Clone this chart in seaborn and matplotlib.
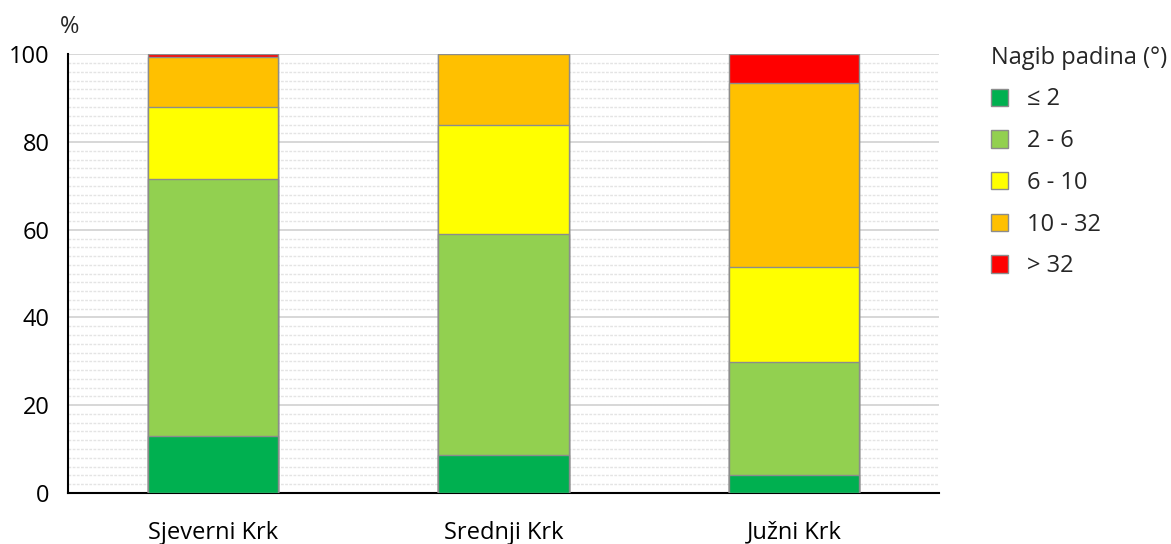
import numpy as np
import pandas as pd
import seaborn as sns
import matplotlib.pyplot as plt
from matplotlib.patches import Patch
from matplotlib.ticker import MultipleLocator

regions = ['Sjeverni Krk', 'Srednji Krk', 'Južni Krk']
classes = ['≤ 2', '2 - 6', '6 - 10', '10 - 32', '> 32']
colors = ['#00b050', '#92d050', '#ffff00', '#ffc000', '#ff0000']

le2 = [13.0, 8.7, 4.1]
s2_6 = [58.5, 50.4, 25.8]
s6_10 = [16.6, 24.9, 21.7]
s10_32 = [11.2, 16.0, 41.8]
gt32 = [0.7, 0.0, 6.6]

df = pd.DataFrame({'region': regions, '≤ 2': le2, '2 - 6': s2_6,
                   '6 - 10': s6_10, '10 - 32': s10_32, '> 32': gt32})

sns.set_style('white')
plt.rcParams['font.family'] = ['Open Sans', 'DejaVu Sans']

fig = plt.figure(figsize=(11.71, 5.44), dpi=100)
ax = fig.add_axes([0.058, 0.094, 0.744, 0.806])

cum = df[classes].cumsum(axis=1)
# draw tallest cumulative first so lower segments cover it
for cls, col in reversed(list(zip(classes, colors))):
    sns.barplot(x=df['region'], y=cum[cls], color=col, width=0.45, saturation=1,
                edgecolor='#8c8c8c', linewidth=1, ax=ax, zorder=3)

ax.set_ylim(0, 100)
ax.set_xlim(-0.5, 2.5)
ax.yaxis.set_major_locator(MultipleLocator(20))
ax.yaxis.set_minor_locator(MultipleLocator(2))
ax.grid(which='major', axis='y', color='#d4d4d4', linewidth=1.3, zorder=0)
ax.grid(which='minor', axis='y', color='#e4e4e4', linestyle=(0, (2, 1)), linewidth=1.0, zorder=0)
ax.set_axisbelow(True)
ax.tick_params(axis='both', which='both', length=0, labelsize=17, colors='black')
ax.tick_params(axis='x', pad=20)
ax.set_xlabel('')
ax.set_ylabel('')
for s in ['top', 'right']:
    ax.spines[s].set_visible(False)
for s in ['left', 'bottom']:
    ax.spines[s].set_color('black')
    ax.spines[s].set_linewidth(1.5)
ax.yaxis.set_tick_params(pad=13)

fig.text(0.051, 0.95, '%', fontsize=17, ha='left', va='center')

handles = [Patch(facecolor=c, edgecolor='#8c8c8c', label=l) for c, l in zip(colors, classes)]
leg = fig.legend(handles=handles, title='Nagib padina (°)', loc='upper left',
                 bbox_to_anchor=(0.834, 0.942), frameon=False, fontsize=17,
                 title_fontsize=17, handlelength=0.75, handleheight=0.75,
                 labelspacing=0.75, handletextpad=0.8, alignment='left',
                 borderpad=0.1)

fig.savefig('out.png', dpi=100)
